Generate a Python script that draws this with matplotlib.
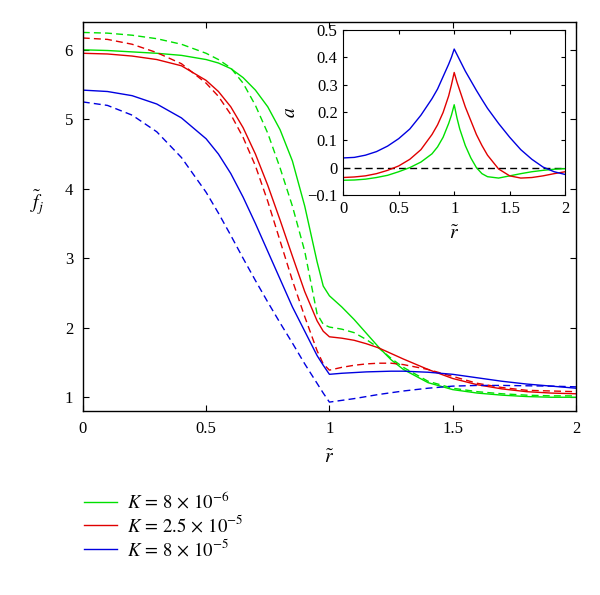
import matplotlib
matplotlib.use("Agg")
import matplotlib.pyplot as plt
import numpy as np

plt.rcParams['font.family'] = ['Liberation Serif', 'DejaVu Serif']
plt.rcParams['mathtext.fontset'] = 'stix'

# Hauptbild: f_j ueber r (durchgezogen und gestrichelt je K)
r_main = [0, 0.1, 0.2, 0.3, 0.4, 0.5, 0.55, 0.6, 0.65, 0.7, 0.75, 0.8, 0.85, 0.9, 0.95, 0.975, 1.0,
          1.05, 1.1, 1.15, 1.2, 1.25, 1.3, 1.4, 1.5, 1.6, 1.7, 1.8, 1.9, 2.0]

green_solid = [6.0, 5.99, 5.97, 5.95, 5.92, 5.86, 5.81, 5.73, 5.6, 5.42, 5.18, 4.85, 4.4, 3.75, 2.95, 2.6, 2.46,
               2.3, 2.12, 1.92, 1.72, 1.54, 1.4, 1.21, 1.11, 1.06, 1.03, 1.01, 1.0, 1.0]
green_dash = [6.25, 6.24, 6.21, 6.16, 6.08, 5.95, 5.86, 5.74, 5.52, 5.2, 4.8, 4.3, 3.75, 3.1, 2.2, 2.05, 2.01,
              1.98, 1.93, 1.83, 1.71, 1.56, 1.43, 1.23, 1.13, 1.08, 1.05, 1.03, 1.02, 1.02]
red_solid = [5.95, 5.94, 5.91, 5.86, 5.77, 5.56, 5.4, 5.18, 4.88, 4.5, 4.05, 3.55, 3.03, 2.52, 2.1, 1.95, 1.87,
             1.85, 1.82, 1.77, 1.71, 1.63, 1.55, 1.4, 1.27, 1.18, 1.12, 1.08, 1.06, 1.05]
red_dash = [6.17, 6.15, 6.08, 5.96, 5.8, 5.52, 5.33, 5.07, 4.74, 4.33, 3.82, 3.25, 2.68, 2.16, 1.67, 1.48, 1.39,
            1.43, 1.46, 1.48, 1.49, 1.49, 1.47, 1.4, 1.3, 1.2, 1.14, 1.1, 1.09, 1.08]
blue_solid = [5.42, 5.40, 5.34, 5.22, 5.02, 4.72, 4.5, 4.22, 3.88, 3.5, 3.1, 2.7, 2.3, 1.95, 1.6, 1.46, 1.33,
              1.345, 1.355, 1.365, 1.37, 1.375, 1.375, 1.36, 1.33, 1.28, 1.23, 1.19, 1.16, 1.13]
blue_dash = [5.25, 5.2, 5.06, 4.82, 4.45, 3.95, 3.65, 3.33, 3.0, 2.68, 2.37, 2.07, 1.78, 1.48, 1.2, 1.06, 0.93,
             0.955, 0.98, 1.01, 1.04, 1.065, 1.09, 1.13, 1.16, 1.17, 1.17, 1.165, 1.16, 1.15]

# Einschub: a ueber r
r_ins = [0, 0.1, 0.2, 0.3, 0.4, 0.5, 0.6, 0.7, 0.8, 0.85, 0.9, 0.95, 0.975, 1.0,
         1.025, 1.05, 1.1, 1.15, 1.2, 1.25, 1.3, 1.4, 1.5, 1.6, 1.7, 1.8, 1.9, 2.0]
a_green = [-0.046, -0.045, -0.042, -0.036, -0.028, -0.015, 0.0, 0.02, 0.05, 0.075, 0.11, 0.16, 0.19, 0.228,
           0.18, 0.14, 0.08, 0.035, 0.0, -0.022, -0.033, -0.038, -0.03, -0.022, -0.015, -0.01, -0.006, -0.004]
a_red = [-0.036, -0.034, -0.03, -0.022, -0.01, 0.006, 0.03, 0.065, 0.12, 0.155, 0.2, 0.26, 0.3, 0.345,
         0.31, 0.28, 0.22, 0.17, 0.12, 0.08, 0.045, -0.005, -0.03, -0.038, -0.036, -0.03, -0.022, -0.015]
a_blue = [0.035, 0.037, 0.045, 0.058, 0.078, 0.105, 0.14, 0.19, 0.25, 0.285, 0.33, 0.375, 0.4, 0.43,
          0.41, 0.39, 0.35, 0.315, 0.28, 0.247, 0.215, 0.16, 0.11, 0.065, 0.03, 0.002, -0.015, -0.025]

labels = [r'$K\, =\, 8\,\times\, 10^{-6}$', r'$K\, =\, 2.5\,\times\, 10^{-5}$', r'$K\, =\, 8\,\times\, 10^{-5}$']
farben = ['#00e000', '#e00000', '#0000e0']

fig = plt.figure(figsize=(6, 5.95), dpi=100)
ax = fig.add_axes([0.138, 0.309, 0.822, 0.654])

linien = []
for ys, yd, c, lab in zip([green_solid, red_solid, blue_solid],
                          [green_dash, red_dash, blue_dash], farben, labels):
    l, = ax.plot(r_main, ys, color=c, lw=1.0, label=lab)
    ax.plot(r_main, yd, color=c, lw=1.0, ls=(0, (5, 3)))
    linien.append(l)

ax.set_xlim(0, 2)
ax.set_ylim(0.8, 6.4)
ax.set_xticks([0, 0.5, 1, 1.5, 2])
ax.set_xticklabels(['0', '0.5', '1', '1.5', '2'])
ax.set_yticks([1, 2, 3, 4, 5, 6])
ax.tick_params(direction='in', top=True, right=True, labelsize=12, length=4, pad=7)
ax.set_xlabel(r'$\tilde{r}$', fontsize=14, labelpad=9)
ax.set_ylabel(r'$\tilde{f}_j$', fontsize=14, rotation=0, labelpad=20)
for s in ax.spines.values():
    s.set_linewidth(1.0)

# Einschub
ins = fig.add_axes([0.572, 0.672, 0.37, 0.278])
ins.plot([0, 2], [0, 0], color='black', lw=1.0, ls=(0, (5, 3)))
for a, c in zip([a_green, a_red, a_blue], farben):
    ins.plot(r_ins, a, color=c, lw=1.0)
ins.set_xlim(0, 2)
ins.set_ylim(-0.1, 0.5)
ins.set_xticks([0, 0.5, 1, 1.5, 2])
ins.set_xticklabels(['0', '0.5', '1', '1.5', '2'])
ins.set_yticks([-0.1, 0, 0.1, 0.2, 0.3, 0.4, 0.5])
ins.set_yticklabels(['\u22120.1', '0', '0.1', '0.2', '0.3', '0.4', '0.5'])
ins.tick_params(direction='in', top=True, right=True, labelsize=12, length=3, pad=4)
ins.set_xlabel(r'$\tilde{r}$', fontsize=14, labelpad=6)
ins.set_ylabel(r'$a$', fontsize=14, labelpad=6)

fig.legend(handles=linien, loc='upper left', bbox_to_anchor=(0.112, 0.204),
           frameon=False, fontsize=13.5, handlelength=1.75, handletextpad=0.55,
           labelspacing=0.15)

fig.savefig('out.png', dpi=100)
